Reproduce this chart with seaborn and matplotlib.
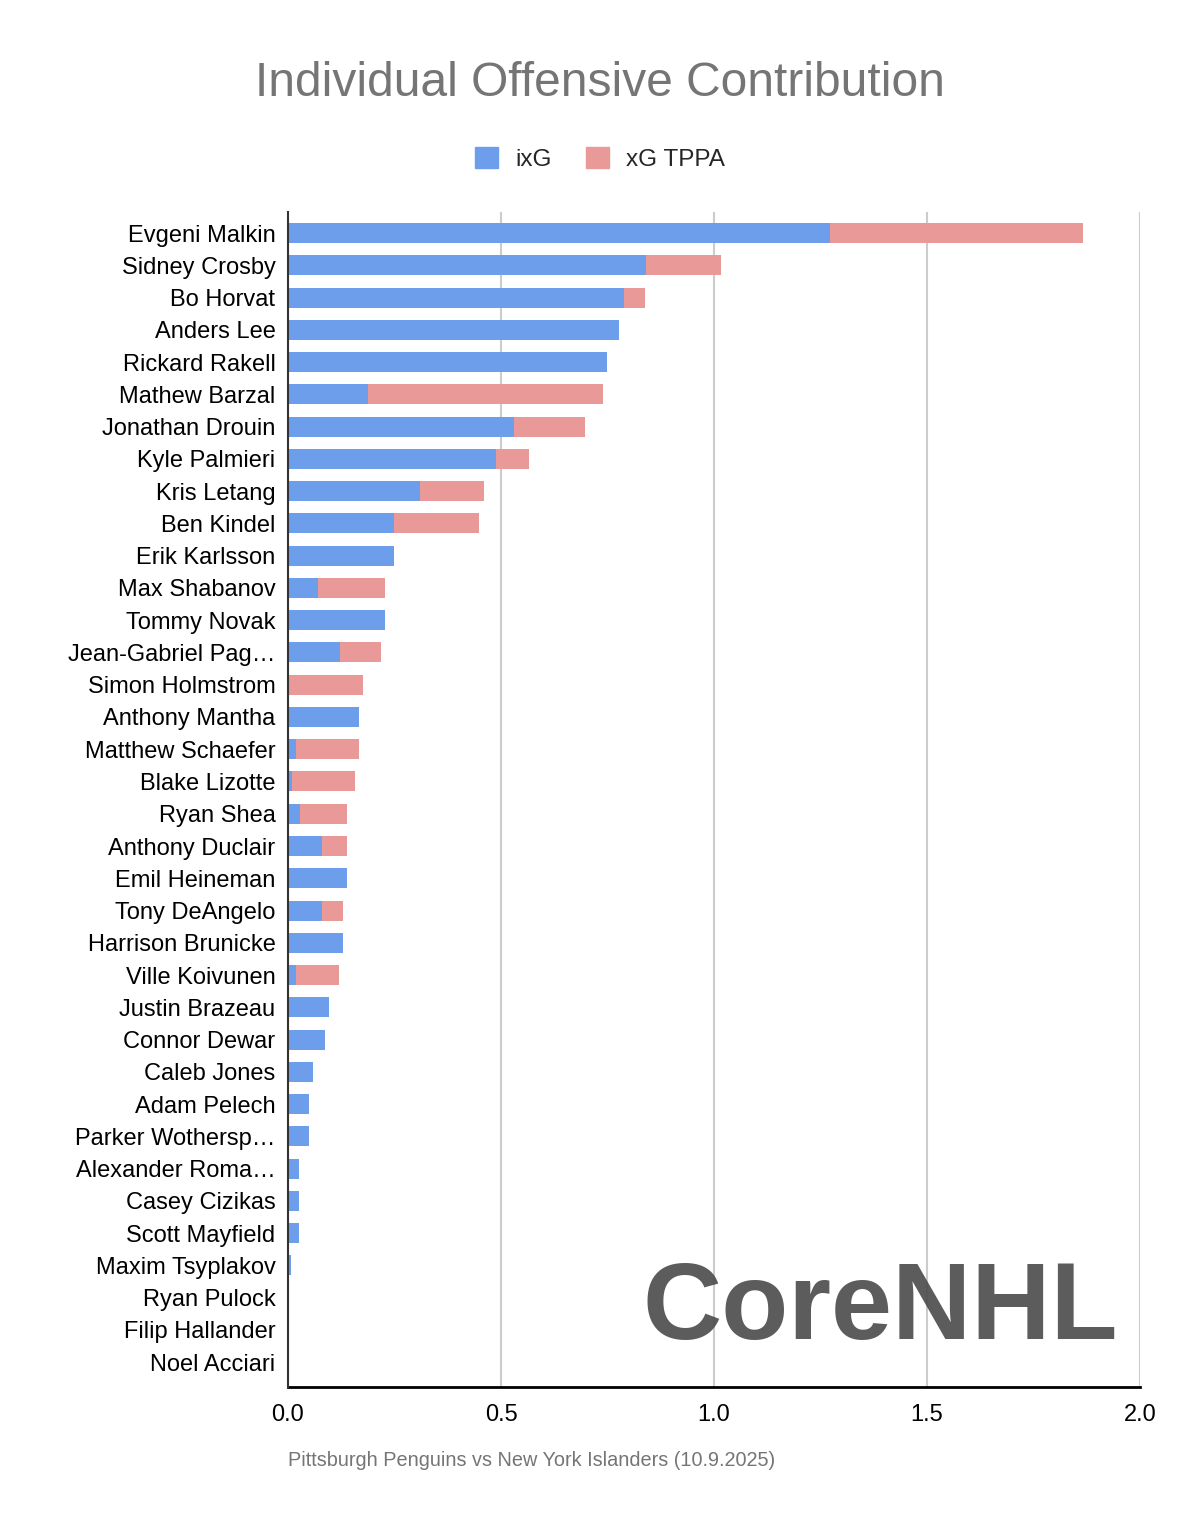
import matplotlib
matplotlib.use("Agg")
import matplotlib.pyplot as plt
import matplotlib.patches as mpatches
import seaborn as sns
import pandas as pd

players = ["Evgeni Malkin", "Sidney Crosby", "Bo Horvat", "Anders Lee", "Rickard Rakell",
           "Mathew Barzal", "Jonathan Drouin", "Kyle Palmieri", "Kris Letang", "Ben Kindel",
           "Erik Karlsson", "Max Shabanov", "Tommy Novak", "Jean-Gabriel Pag\u2026",
           "Simon Holmstrom", "Anthony Mantha", "Matthew Schaefer", "Blake Lizotte",
           "Ryan Shea", "Anthony Duclair", "Emil Heineman", "Tony DeAngelo",
           "Harrison Brunicke", "Ville Koivunen", "Justin Brazeau", "Connor Dewar",
           "Caleb Jones", "Adam Pelech", "Parker Wothersp\u2026", "Alexander Roma\u2026",
           "Casey Cizikas", "Scott Mayfield", "Maxim Tsyplakov", "Ryan Pulock",
           "Filip Hallander", "Noel Acciari"]
ixg = [1.272, 0.840, 0.789, 0.777, 0.749, 0.188, 0.530, 0.488, 0.310, 0.249,
       0.249, 0.070, 0.228, 0.122, 0.0, 0.167, 0.019, 0.009, 0.028, 0.080,
       0.138, 0.080, 0.129, 0.019, 0.096, 0.087, 0.059, 0.049, 0.049, 0.026,
       0.026, 0.026, 0.007, 0.0, 0.0, 0.0]
xg_tppa = [0.594, 0.176, 0.049, 0.0, 0.0, 0.551, 0.167, 0.078, 0.150, 0.199,
           0.0, 0.158, 0.0, 0.096, 0.176, 0.0, 0.148, 0.148, 0.110, 0.058,
           0.0, 0.049, 0.0, 0.101, 0.0, 0.0, 0.0, 0.0, 0.0, 0.0,
           0.0, 0.0, 0.0, 0.0, 0.0, 0.0]
x_ticks = [0.0, 0.5, 1.0, 1.5, 2.0]
x_tick_labels = ["0.0", "0.5", "1.0", "1.5", "2.0"]

BLUE = "#6d9eeb"
PINK = "#ea9999"

df = pd.DataFrame({"player": players, "ixG": ixg, "xG TPPA": xg_tppa})
df["total"] = df["ixG"] + df["xG TPPA"]

sns.set_theme(style="white")
plt.rcParams["font.family"] = ["Liberation Sans", "DejaVu Sans"]

fig = plt.figure(figsize=(12, 15.32), dpi=100)
ax = fig.add_axes([0.24, 0.0946, 0.71, 0.767])

sns.barplot(data=df, x="total", y="player", color=PINK, orient="h", width=0.62,
            saturation=1, ax=ax, zorder=3, linewidth=0, edgecolor="none")
sns.barplot(data=df, x="ixG", y="player", color=BLUE, orient="h", width=0.62,
            saturation=1, ax=ax, zorder=4, linewidth=0, edgecolor="none")

ax.set_xlim(0, 2.0)
ax.set_ylim(len(players) - 1 + 0.77, -0.65)
ax.set_xticks(x_ticks)
ax.set_xticklabels(x_tick_labels)
ax.set_xlabel("")
ax.set_ylabel("")
ax.xaxis.grid(True, color="#cccccc", linewidth=1.5, zorder=0)
ax.set_axisbelow(True)
for s in ["top", "right"]:
    ax.spines[s].set_visible(False)
ax.spines["left"].set_color("#333333")
ax.spines["left"].set_linewidth(1.5)
ax.spines["left"].set_zorder(6)
ax.spines["bottom"].set_color("#000000")
ax.spines["bottom"].set_linewidth(2)
ax.tick_params(axis="y", length=0, labelsize=17, pad=9, colors="#000000")
ax.tick_params(axis="x", length=0, labelsize=17, pad=12, colors="#000000")

fig.text(0.5, 1 - 83 / 1532, "Individual Offensive Contribution", ha="center", va="center",
         fontsize=34.5, color="#757575")

handles = [mpatches.Patch(facecolor=BLUE, edgecolor=BLUE, label="ixG"),
           mpatches.Patch(facecolor=PINK, edgecolor=PINK, label="xG TPPA")]
fig.legend(handles=handles, loc="center", bbox_to_anchor=(0.5, 1 - 159 / 1532), ncol=2,
           frameon=False, fontsize=17.5, handlelength=0.95, handleheight=0.95,
           columnspacing=1.4, handletextpad=0.7)

fig.text(288 / 1200, 1 - 1461 / 1532, "Pittsburgh Penguins vs New York Islanders (10.9.2025)",
         ha="left", va="center", fontsize=14.3, color="#757575")

fig.text(1118 / 1200, 1 - 1311 / 1532, "CoreNHL", ha="right", va="center",
         fontsize=79, fontweight="bold", color="#4a4a4a", alpha=0.9, zorder=10)

fig.savefig("out.png", dpi=100, facecolor="white")
